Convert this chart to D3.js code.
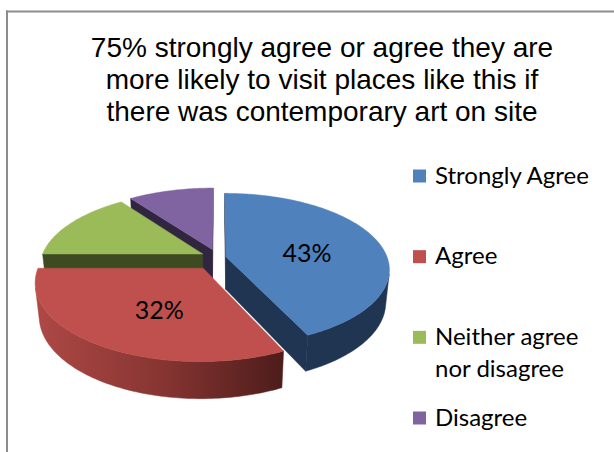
<!DOCTYPE html>
<html>
<head>
<meta charset="utf-8">
<script src="https://cdn.jsdelivr.net/npm/d3@7.9.0/dist/d3.min.js"></script>
<style>
  html, body { margin: 0; padding: 0; background: #fff; }
  svg { display: block; }
</style>
</head>
<body>
<div id="chart"></div>
<script>
const titleLines = [
  "75% strongly agree or agree they are",
  "more likely to visit places like this if",
  "there was contemporary art on site",
];
const categories = ["Strongly Agree", "Agree", "Neither agree nor disagree", "Disagree"];
const values = [43, 32, 15, 10];
const showLabel = [true, true, false, false];

const topColors = ["#4f81bd", "#c0504d", "#9bbb59", "#8064a2"];
const wallColors = ["#1f3552", "#4f1d1c", "#3e4a21", "#30263f"];
const explodeBy = [0.05, 0.167, 0.107, 0.115];

const width = 614;
const height = 452;

// simple perspective camera looking down on the pie
const view = { cx: 218, cy: 290, scale: 158, tilt: Math.asin(0.492), k: 0.185, thick: 0.231 };
const cosT = Math.cos(view.tilt);
const sinT = Math.sin(view.tilt);
const camera = [0, sinT / view.k, cosT / view.k];

function project([X, Y, Z]) {
  const w = 1 - view.k * (Z * cosT + Y * sinT);
  const yv = Y * cosT - Z * sinT;
  return [view.cx + (view.scale * X) / w, view.cy - (view.scale * yv) / w];
}

function faces(camPoint, p, n) {
  return (camPoint[0] - p[0]) * n[0] + (camPoint[1] - p[1]) * n[1] + (camPoint[2] - p[2]) * n[2] > 0;
}

const line = d3.line();
const poly = (pts) => line(pts.map(project)) + "Z";

const svg = d3
  .select("#chart")
  .append("svg")
  .attr("width", width)
  .attr("height", height)
  .attr("viewBox", `0 0 ${width} ${height}`);

const defs = svg.append("defs");

// chart frame
svg.append("line").attr("x1", 6).attr("x2", width).attr("y1", 11.5).attr("y2", 11.5)
  .attr("stroke", "#8c8c8c").attr("stroke-width", 2);
svg.append("line").attr("x1", 7).attr("x2", 7).attr("y1", 10.5).attr("y2", height)
  .attr("stroke", "#8c8c8c").attr("stroke-width", 2);

// title
svg.append("text")
  .attr("x", 322)
  .attr("y", 57)
  .attr("text-anchor", "middle")
  .style("font-family", "'Liberation Sans', Arial, sans-serif")
  .style("font-size", "28px")
  .attr("fill", "#000")
  .selectAll("tspan")
  .data(titleLines)
  .join("tspan")
  .attr("x", 322)
  .attr("dy", (d, i) => (i === 0 ? 0 : 32))
  .text((d) => d);

const color = d3.scaleOrdinal().domain(categories).range(topColors);
const wallColor = d3.scaleOrdinal().domain(categories).range(wallColors);

const arcs = d3.pie().sort(null).value((d) => d)(values);
const h = view.thick;
const step = Math.PI / 180;

const slices = arcs.map((a, i) => {
  const mid = (a.startAngle + a.endAngle) / 2;
  const ox = explodeBy[i] * Math.sin(mid);
  const oz = -explodeBy[i] * Math.cos(mid);
  const rim = (t, y, r = 1) => [ox + r * Math.sin(t), y, oz - r * Math.cos(t)];
  const apex = (y) => [ox, y, oz];
  const angles = d3.range(a.startAngle, a.endAngle, step).concat([a.endAngle]);
  return {
    i, a, mid, rim, apex, angles,
    name: categories[i],
    depth: (oz - 0.5 * Math.cos(mid)) * cosT,
  };
});

// red wall is shaded light-to-dark from left to right
const grad = defs.append("linearGradient")
  .attr("id", "wall-grad-1")
  .attr("gradientUnits", "userSpaceOnUse")
  .attr("x1", 38).attr("x2", 285).attr("y1", 0).attr("y2", 0);
grad.append("stop").attr("offset", 0).attr("stop-color", "#ad4845");
grad.append("stop").attr("offset", 0.5).attr("stop-color", "#873532");
grad.append("stop").attr("offset", 1).attr("stop-color", "#4c1c1b");

const pie = svg.append("g").attr("class", "pie");
const topFaces = {};

d3.sort(slices, (s) => s.depth).forEach((s) => {
  const g = pie.append("g").attr("class", "slice");
  const wall = wallColor(s.name);

  // radial walls
  const edges = [
    { t: s.a.startAngle, n: [-Math.cos(s.a.startAngle), 0, -Math.sin(s.a.startAngle)] },
    { t: s.a.endAngle, n: [Math.cos(s.a.endAngle), 0, Math.sin(s.a.endAngle)] },
  ];
  edges.forEach((e) => {
    if (!faces(camera, s.apex(h / 2), e.n)) return;
    g.append("path")
      .attr("d", poly([s.apex(h), s.rim(e.t, h), s.rim(e.t, 0), s.apex(0)]))
      .attr("fill", wall)
      .attr("stroke", wall)
      .attr("stroke-width", 0.5);
  });

  // outer curved wall, only the part facing the camera
  const visible = s.angles.filter((t) =>
    faces(camera, s.rim(t, h / 2), [Math.sin(t), 0, -Math.cos(t)]),
  );
  if (visible.length > 1) {
    const topArc = visible.map((t) => s.rim(t, h));
    const botArc = visible.slice().reverse().map((t) => s.rim(t, 0));
    g.append("path")
      .attr("d", poly(topArc.concat(botArc)))
      .attr("fill", s.i === 1 ? "url(#wall-grad-1)" : wall)
      .attr("stroke", s.i === 1 ? "url(#wall-grad-1)" : wall)
      .attr("stroke-width", 0.5);
  }

  // top face
  topFaces[s.i] = g.append("path")
    .attr("d", poly([s.apex(h)].concat(s.angles.map((t) => s.rim(t, h)))))
    .attr("fill", color(s.name))
    .attr("stroke", color(s.name))
    .attr("stroke-width", 0.5);
});

// data labels: x from the drawn face's box, y from the projected centre of the flat slice box
const labels = svg.append("g")
  .style("font-family", "Lato, 'Noto Sans', sans-serif")
  .style("font-size", "25px")
  .attr("text-anchor", "middle");

slices.filter((s) => showLabel[s.i]).forEach((s) => {
  const b = topFaces[s.i].node().getBBox();
  const flat = [s.apex(h)].concat(s.angles.map((t) => s.rim(t, h)));
  const [x0, x1] = d3.extent(flat, (p) => p[0]);
  const [z0, z1] = d3.extent(flat, (p) => p[2]);
  const [, y] = project([(x0 + x1) / 2, h, (z0 + z1) / 2]);
  labels.append("text")
    .attr("x", b.x + b.width / 2)
    .attr("y", y)
    .attr("dy", "0.35em")
    .attr("fill", "#000")
    .text(`${values[s.i]}%`);
});

// legend
const rowY = d3.scalePoint().domain(categories).range([176, 418]);
const legend = svg.append("g")
  .style("font-family", "Lato, 'Noto Sans', sans-serif")
  .style("font-size", "24px");

categories.forEach((c) => {
  const y = rowY(c);
  legend.append("rect")
    .attr("x", 413)
    .attr("y", y - 6.5)
    .attr("width", 13)
    .attr("height", 13)
    .attr("fill", color(c));

  const text = legend.append("text").attr("x", 435).attr("y", y + 7.5).attr("fill", "#000");
  const words = c.split(" ");
  let current = [];
  let tspan = text.append("tspan").attr("x", 435).attr("dy", 0);
  words.forEach((w) => {
    current.push(w);
    tspan.text(current.join(" "));
    if (tspan.node().getComputedTextLength() > 170 && current.length > 1) {
      current.pop();
      tspan.text(current.join(" "));
      current = [w];
      tspan = text.append("tspan").attr("x", 435).attr("dy", 32).text(w);
    }
  });
});
</script>
</body>
</html>
